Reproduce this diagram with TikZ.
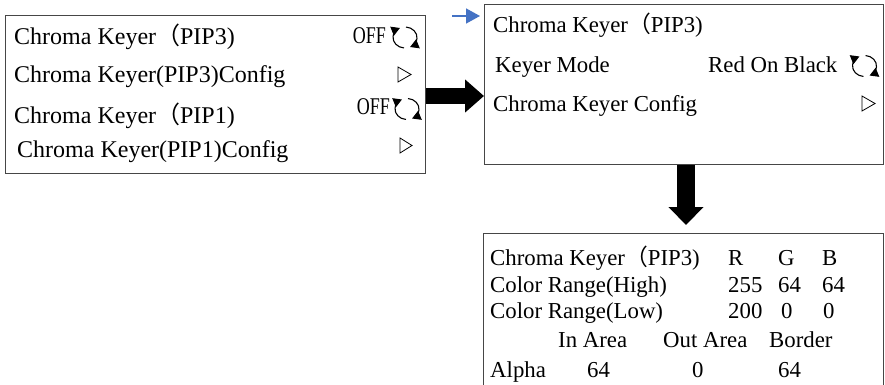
\documentclass[tikz,border=0pt]{standalone}
\usepackage{fontspec}
\setmainfont{Liberation Serif}
\newfontfamily\cjk{Noto Sans CJK SC}
\newfontfamily\narrowfont[FakeStretch=0.75]{Liberation Serif}
\usetikzlibrary{arrows.meta,calc}
\definecolor{boxgray}{RGB}{70,70,70}
\definecolor{blueptr}{RGB}{68,114,196}
\tikzset{
  panel/.style={draw=boxgray, line width=1.2pt, anchor=north west, inner sep=0pt},
  txtA/.style={anchor=base west, inner sep=0pt, font=\fontsize{24}{28}\selectfont},
  txt/.style={anchor=base west, inner sep=0pt, font=\fontsize{22.8}{27}\selectfont},
  offtxt/.style={anchor=base east, inner sep=0pt, font=\narrowfont\fontsize{24}{28}\selectfont},
  blockarrow/.style={line width=#1, draw=black},
  cyc/.style={line width=1.1pt, -{Triangle[length=8.5pt,width=9.5pt]}},
  tri/.style={line width=0.8pt, line join=miter},
  roticon/.pic={
    \draw[cyc] (95:12 and 10.5) arc[start angle=95, end angle=245, x radius=12, y radius=10.5];
    \draw[cyc] (275:12 and 10.5) arc[start angle=275, end angle=425, x radius=12, y radius=10.5];
  }
}
\begin{document}
\begin{tikzpicture}[x=1pt,y=-1pt]
\clip (0,0) rectangle (885,385);
\fill[white] (0,0) rectangle (885,385);

% panels
\node[panel, minimum width=420pt, minimum height=158pt] (b1) at (5,15) {};
\node[panel, minimum width=399pt, minimum height=160pt] (b2) at (484,4) {};
\node[panel, minimum width=400pt, minimum height=175pt] (b3) at (483,233) {};

% panel 1
\node[txtA] (p1r1) at (14,45) {Chroma Keyer{\cjk （}PIP3)};
\node[offtxt] (p1off1) at (386,44) {OFF};
\pic at (405,37.5) {roticon};
\node[txtA] (p1r2) at (14,83) {Chroma Keyer(PIP3)Config};
\draw[tri] (398,67) -- (411,74.5) -- (398,82) -- cycle;
\node[txtA] (p1r3) at (14,123) {Chroma Keyer{\cjk （}PIP1)};
\node[offtxt] (p1off3) at (390,114) {OFF};
\pic at (407,109) {roticon};
\node[txtA] (p1r4) at (17,157) {Chroma Keyer(PIP1)Config};
\draw[tri] (400,138) -- (412,145.5) -- (400,153) -- cycle;

% panel 2
\node[txt] (p2r1) at (493,33) {Chroma Keyer{\cjk （}PIP3)};
\node[txt] (p2r2) at (495,73) {Keyer Mode};
\node[txt] (p2mode) at (708,73) {Red On Black};
\pic at (864.5,66) {roticon};
\node[txt] (p2r3) at (493,112) {Chroma Keyer Config};
\draw[tri] (862,96) -- (875,103.5) -- (862,111) -- cycle;

% panel 3
\node[txt] (p3r1) at (490,265) {Chroma Keyer{\cjk （}PIP3)};
\node[txt] (p3R) at (728,265) {R};
\node[txt] (p3G) at (778,265) {G};
\node[txt] (p3B) at (822,265) {B};
\node[txt] (p3r2) at (490,292) {Color Range(High)};
\node[txt] (p3hr) at (728,292) {255};
\node[txt] (p3hg) at (778,292) {64};
\node[txt] (p3hb) at (822,292) {64};
\node[txt] (p3r3) at (490,318) {Color Range(Low)};
\node[txt] (p3lr) at (728,318) {200};
\node[txt] (p3lg) at (781,318) {0};
\node[txt] (p3lb) at (823,318) {0};
\node[txt] (p3in) at (558,347) {In Area};
\node[txt] (p3out) at (663,347) {Out Area};
\node[txt] (p3bor) at (769,347) {Border};
\node[txt] (p3alpha) at (490,377) {Alpha};
\node[txt] (p3ai) at (587,377) {64};
\node[txt] (p3ao) at (692,377) {0};
\node[txt] (p3ab) at (778,377) {64};

% pointer
\coordinate (ptr) at (452,16);
\draw[blueptr, line width=1.5pt, -{Triangle[length=14pt,width=15pt]}] (ptr) -- ($(b2.west |- ptr)+(-4,0)$);

% block arrows
\draw[blockarrow=16pt, -{Triangle[length=19pt,width=32pt]}] (b1.east |- 0,96) -- (b2.west |- 0,96);
\draw[blockarrow=18pt, -{Triangle[length=18pt,width=34pt]}] (b2.south -| 686,0) -- ($(b3.north -| 686,0)+(0,-8)$);
\end{tikzpicture}
\end{document}
